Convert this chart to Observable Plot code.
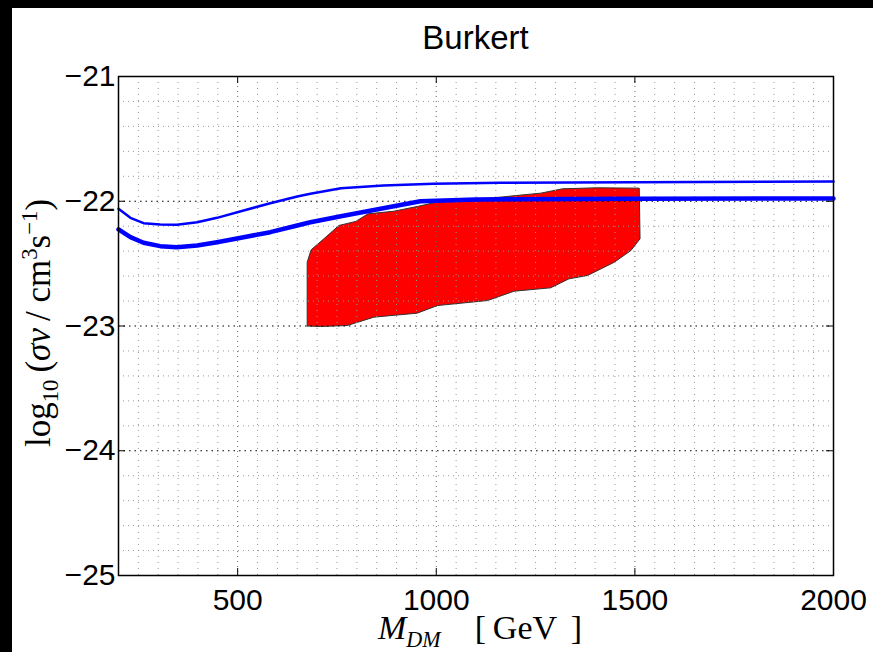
<!DOCTYPE html>
<html>
<head>
<meta charset="utf-8">
<script src="https://cdn.jsdelivr.net/npm/d3@7"></script>
<script src="https://cdn.jsdelivr.net/npm/@observablehq/plot@0.6"></script>
<style>
  html, body { margin: 0; padding: 0; background: #fff; width: 873px; height: 652px; overflow: hidden; }
  #bandTop { position: absolute; left: 0; top: 0; width: 873px; height: 8px; background: #000; }
  #bandLeft { position: absolute; left: 0; top: 0; width: 12px; height: 652px; background: #000; }
  #wrap { position: absolute; left: 12px; top: 8px; width: 861px; height: 644px; background: #fff; }
  #chart { position: absolute; left: 0; top: 0; }
  #title { position: absolute; left: 106px; width: 715px; top: 13px; text-align: center;
           font: 33px "Liberation Sans", Arial, sans-serif; line-height: 33px; color: #000; }
  #ylab { position: absolute; left: 26px; top: 315px; transform: translate(-50%, -50%) rotate(-90deg);
          white-space: nowrap; font: 35px "Liberation Serif", "DejaVu Serif", serif; line-height: 35px; color: #000; }
  #xlab { position: absolute; left: 106px; width: 724px; top: 604px; text-align: center;
          white-space: nowrap; font: 34px "Liberation Serif", "DejaVu Serif", serif; line-height: 32px; color: #000; }
  sub, sup { font-size: 0.65em; line-height: 0; }
</style>
</head>
<body>
<div id="bandTop"></div>
<div id="bandLeft"></div>
<div id="wrap">
  <div id="chart"></div>
  <div id="title">Burkert</div>
  <div id="ylab">log<sub>10</sub>&thinsp;(<i>σv</i>&thinsp;/ cm<sup>3</sup>s<sup>−1</sup>)</div>
  <div id="xlab"><i>M<sub>DM</sub></i>&nbsp;&nbsp;&nbsp;&nbsp;[&thinsp;GeV&thinsp;&thinsp;]</div>
</div>
<script>
// ---- data ----
const xTicks = [500, 1000, 1500, 2000];
const yTicks = [-25, -24, -23, -22, -21];

// thin upper blue curve
const thinM = [200, 230, 263, 305, 347, 398, 448, 515, 582, 650, 683, 760, 867, 993, 1162, 1500, 2000];
const thinV = [-22.06, -22.133, -22.176, -22.186, -22.188, -22.168, -22.133, -22.074, -22.016, -21.962, -21.94, -21.895, -21.874, -21.86, -21.852, -21.847, -21.842];

// thick lower blue curve
const thickM = [200, 230, 263, 305, 347, 398, 448, 515, 582, 650, 683, 760, 903, 960, 1100, 1500, 2000];
const thickV = [-22.226, -22.288, -22.333, -22.36, -22.368, -22.355, -22.328, -22.288, -22.248, -22.194, -22.168, -22.12, -22.034, -22.0, -21.985, -21.979, -21.978];

// red region outline
const polyM = [675, 675, 685, 717, 755, 797, 828, 893, 952, 1011, 1145, 1263, 1318, 1406, 1511, 1513, 1490, 1448, 1381, 1334, 1288, 1196, 1129, 1003, 952, 843, 776, 709, 675];
const polyV = [-23.0, -22.489, -22.389, -22.301, -22.194, -22.162, -22.101, -22.08, -22.042, -22.0, -21.972, -21.935, -21.9, -21.892, -21.895, -22.301, -22.395, -22.489, -22.595, -22.622, -22.694, -22.721, -22.796, -22.836, -22.897, -22.929, -22.996, -23.004, -23.0];

const thin = thinM.map((m, i) => ({m, v: thinV[i]}));
const thick = thickM.map((m, i) => ({m, v: thickV[i]}));
const poly = polyM.map((m, i) => ({m, v: polyV[i]}));

const W = 861, H = 644, mL = 106, mT = 68, mR = 40, mB = 77;
const fw = W - mL - mR, fh = H - mT - mB;

const xMinor = d3.range(250, 2000, 50).filter(d => !xTicks.includes(d));
const yMinor = d3.range(-24.8, -21, 0.2).map(d => +d.toFixed(1)).filter(d => !yTicks.includes(d));
const xMajorGrid = [500, 1000, 1500];
const yMajorGrid = [-24, -23, -22];

const plot = Plot.plot({
  width: W, height: H,
  marginLeft: mL, marginTop: mT, marginRight: mR, marginBottom: mB,
  style: {background: "transparent", fontFamily: "'Liberation Sans', Arial, sans-serif", color: "#000"},
  x: {domain: [200, 2000]},
  y: {domain: [-25, -21]},
  marks: [
    // red region
    Plot.line(poly, {x: "m", y: "v", fill: "#ff0000", stroke: "#333", strokeWidth: 1}),
    // minor grid
    Plot.ruleX(xMinor, {stroke: "#999", strokeWidth: 1, strokeDasharray: "1,5"}),
    Plot.ruleY(yMinor, {stroke: "#999", strokeWidth: 1, strokeDasharray: "1,4"}),
    // major grid
    Plot.ruleX(xMajorGrid, {stroke: "#666", strokeWidth: 1, strokeDasharray: "1,4"}),
    Plot.ruleY(yMajorGrid, {stroke: "#000", strokeWidth: 1.2, strokeDasharray: "1.5,4"}),
    // curves
    Plot.line(thick, {x: "m", y: "v", stroke: "#0000ff", strokeWidth: 4.5}),
    Plot.line(thin, {x: "m", y: "v", stroke: "#0000ff", strokeWidth: 2.5}),
    // frame and inward ticks
    Plot.frame({stroke: "#000", strokeWidth: 1.5}),
    Plot.ruleX(xTicks, {stroke: "#000", insetTop: fh - 7}),
    Plot.ruleX(xTicks, {stroke: "#000", insetBottom: fh - 7}),
    Plot.ruleY(yTicks, {stroke: "#000", insetRight: fw - 7}),
    Plot.ruleY(yTicks, {stroke: "#000", insetLeft: fw - 7}),
    // tick labels
    Plot.axisX({ticks: xTicks, tickSize: 0, tickPadding: 13, fontSize: 30, label: null, tickFormat: d => String(d)}),
    Plot.axisY({ticks: yTicks, tickSize: 0, tickPadding: 3, fontSize: 30, label: null,
                tickFormat: d => (d < 0 ? "\u2212" : "") + Math.abs(d)})
  ]
});
document.getElementById("chart").appendChild(plot);
</script>
</body>
</html>
